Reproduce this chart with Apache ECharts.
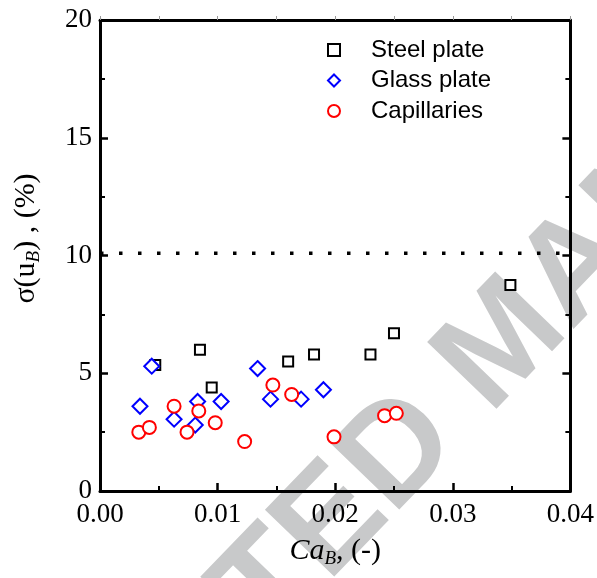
<!DOCTYPE html>
<html><head><meta charset="utf-8">
<script src="https://cdn.jsdelivr.net/npm/echarts@6/dist/echarts.min.js"></script>
<style>html,body{margin:0;padding:0;background:#fff}#c{width:597px;height:578px}</style>
</head><body><div id="c"></div>
<script>
const xTicks = [0.00, 0.01, 0.02, 0.03, 0.04];
const yTicks = [0, 5, 10, 15, 20];
const steelX = [0.0047, 0.0085, 0.0095, 0.0160, 0.0182, 0.0230, 0.0250, 0.0349];
const steelY = [5.35, 6.0, 4.4, 5.5, 5.8, 5.8, 6.7, 8.75];
const glassX = [0.0044, 0.0034, 0.0063, 0.0083, 0.0081, 0.0103, 0.0134, 0.0145, 0.0171, 0.0190];
const glassY = [5.3, 3.6, 3.05, 3.8, 2.8, 3.8, 5.2, 3.9, 3.9, 4.3];
const capX = [0.0033, 0.0042, 0.0063, 0.0074, 0.0084, 0.0098, 0.0123, 0.0147, 0.0163, 0.0199, 0.0242, 0.0252];
const capY = [2.5, 2.7, 3.6, 2.5, 3.4, 2.9, 2.1, 4.5, 4.1, 2.3, 3.2, 3.3];
const limitX = [0.0, 0.04];
const limitY = [10.1, 10.1];

const zip = (a, b) => a.map((v, i) => [v, b[i]]);
const serif = '"Liberation Serif","Times New Roman",serif';
const sans = '"Liberation Sans",Arial,sans-serif';

const chart = echarts.init(document.getElementById('c'), null, {renderer: 'canvas'});
function baseAxis(len, minLen, w, color) {
  return {
    axisLine: {show: true, onZero: false, lineStyle: {color: '#000', width: 3}},
    axisTick: {show: true, inside: false, length: len, lineStyle: {color: color || '#000', width: w || 2.5}},
    minorTick: {show: true, splitNumber: 2, length: minLen, lineStyle: {color: color || '#000', width: w || 2}},
    splitLine: {show: false}, minorSplitLine: {show: false}
  };
}
const ang = 46 * Math.PI / 180;
const wmF = 140;
const wmAdv = 5.139 * wmF;
chart.setOption({
  animation: false,
  backgroundColor: '#fff',
  grid: {left: 100, right: 26, top: 20, bottom: 87},
  graphic: [{
    type: 'text', z: -10, silent: true,
    x: 400 - wmAdv * Math.cos(ang), y: 453 + wmAdv * Math.sin(ang),
    rotation: ang,
    style: {text: 'ACCEPTED MANUSCRIPT', font: 'bold ' + wmF + 'px ' + sans, fill: '#c8c9ca',
            textAlign: 'left', textVerticalAlign: 'middle'}
  }],
  legend: {
    data: ['Steel plate', 'Glass plate', 'Capillaries'],
    orient: 'vertical', left: 322, top: 33,
    itemWidth: 12, itemHeight: 12, itemGap: 6.5,
    textStyle: {fontFamily: sans, fontSize: 24, color: '#000', lineHeight: 24, padding: [0, 0, 0, 26]}
  },
  xAxis: [Object.assign(baseAxis(-8, -5), {
    type: 'value', min: 0, max: 0.04, interval: 0.01,
    name: '{i|Ca}{sub|B}{n|, (-)}', nameLocation: 'middle', nameGap: 44,
    nameTextStyle: {rich: {
      i: {fontFamily: serif, fontStyle: 'italic', fontSize: 30, color: '#000'},
      sub: {fontFamily: serif, fontStyle: 'italic', fontSize: 19, color: '#000', padding: [14, 0, 0, 0]},
      n: {fontFamily: serif, fontSize: 30, color: '#000'}
    }},
    axisLabel: {fontFamily: serif, fontSize: 27, color: '#000', margin: 10,
                formatter: v => { const s = xTicks.find(t => Math.abs(t - v) < 1e-9); return (s === undefined ? v : s).toFixed(2); }}
  }), Object.assign(baseAxis(4, 4, 1, '#999'), {
    type: 'value', position: 'top', min: 0, max: 0.04, interval: 0.01,
    axisLabel: {show: false}
  })],
  yAxis: [Object.assign(baseAxis(-8, -5), {
    type: 'value', min: 0, max: 20, interval: 5,
    name: '{n|σ(u}{sub|B}{n|) , (%)}', nameLocation: 'middle', nameGap: 57,
    nameTextStyle: {padding: [0, 0, 0, 34], rich: {
      n: {fontFamily: serif, fontSize: 30, color: '#000'},
      sub: {fontFamily: serif, fontStyle: 'italic', fontSize: 19, color: '#000', padding: [14, 0, 0, 0]}
    }},
    axisLabel: {fontFamily: serif, fontSize: 27, color: '#000', margin: 8,
                formatter: v => String(yTicks.find(t => Math.abs(t - v) < 1e-9) ?? v)}
  }), Object.assign(baseAxis(-8, -5), {
    type: 'value', position: 'right', min: 0, max: 20, interval: 5,
    axisLabel: {show: false}
  })],
  series: [
    {name: 'limit', type: 'line', data: zip(limitX, limitY), symbol: 'none', silent: true,
     lineStyle: {color: '#000', width: 3.5, type: [3.5, 15.5], cap: 'butt'}, z: 1},
    {name: 'Steel plate', type: 'scatter', symbol: 'rect', symbolSize: 10, data: zip(steelX, steelY),
     itemStyle: {color: '#fff', borderColor: '#000', borderWidth: 2, opacity: 1}},
    {name: 'Glass plate', type: 'scatter', symbol: 'diamond', symbolSize: 15, data: zip(glassX, glassY),
     itemStyle: {color: '#fff', borderColor: '#0000ff', borderWidth: 2, opacity: 1}},
    {name: 'Capillaries', type: 'scatter', symbol: 'circle', symbolSize: 13, data: zip(capX, capY),
     itemStyle: {color: '#fff', borderColor: '#ff0000', borderWidth: 2, opacity: 1}}
  ]
});
</script></body></html>
